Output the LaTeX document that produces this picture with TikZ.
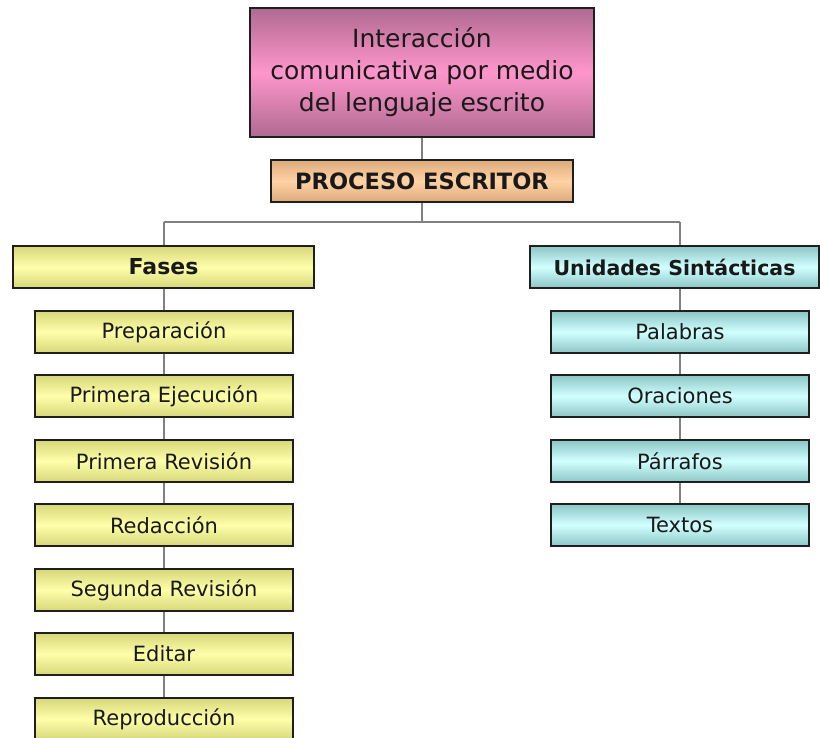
\documentclass[tikz,border=0pt]{standalone}
\usepackage{fontspec}
\setmainfont{DejaVu Sans}
\begin{document}
\begin{tikzpicture}[x=1pt,y=-1pt,
  box/.style={draw=black!88, line width=1.4pt, inner sep=0pt, align=center, text=black!90},
  pinkbox/.style={box, top color=pinkE, bottom color=pinkE, middle color=pinkM},
  orangebox/.style={box, top color=oraE, bottom color=oraE, middle color=oraM},
  yelbox/.style={box, top color=yelE, bottom color=yelE, middle color=yelM},
  cyanbox/.style={box, top color=cyaE, bottom color=cyaE, middle color=cyaM},
  child/.style={minimum width=258pt, minimum height=42pt, font=\fontsize{21}{24}\selectfont},
  head/.style={minimum height=42pt, font=\fontsize{22}{24}\selectfont\bfseries},
  conn/.style={draw=black!50, line width=2.6pt}
]
\definecolor{pinkE}{HTML}{B06A90}
\definecolor{pinkM}{HTML}{FF96CC}
\definecolor{oraE}{HTML}{DDAA7A}
\definecolor{oraM}{HTML}{FFD3A6}
\definecolor{yelE}{HTML}{D6D67A}
\definecolor{yelM}{HTML}{FFFFAA}
\definecolor{cyaE}{HTML}{8CC6C6}
\definecolor{cyaM}{HTML}{D2FFFF}
\useasboundingbox (0,0) rectangle (820,738);
\clip (0,0) rectangle (820,738);
\fill[white] (0,0) rectangle (820,738);

\node[pinkbox, minimum width=344pt, minimum height=129pt, font=\fontsize{25}{32}\selectfont] (title) at (422,72.5)
  {Interacción\\comunicativa por medio\\del lenguaje escrito};
\node[orangebox, head, minimum width=302pt, font=\fontsize{22.5}{24}\selectfont\bfseries] (proc) at (422,181) {PROCESO ESCRITOR};
\node[yelbox, head, minimum width=301pt] (fases) at (163.5,267) {Fases};
\node[cyanbox, head, minimum width=289pt, font=\fontsize{20.5}{24}\selectfont\bfseries] (unid) at (674.5,267) {Unidades Sintácticas};

\node[yelbox, child] (f1) at (164,332) {Preparación};
\node[yelbox, child] (f2) at (164,396) {Primera Ejecución};
\node[yelbox, child] (f3) at (164,461) {Primera Revisión};
\node[yelbox, child] (f4) at (164,525) {Redacción};
\node[yelbox, child] (f5) at (164,590) {Segunda Revisión};
\node[yelbox, child] (f6) at (164,654) {Editar};
\node[yelbox, child] (f7) at (164,719) {Reproducción};

\node[cyanbox, child] (u1) at (680,332) {Palabras};
\node[cyanbox, child] (u2) at (680,396) {Oraciones};
\node[cyanbox, child] (u3) at (680,461) {Párrafos};
\node[cyanbox, child] (u4) at (680,525) {Textos};

\coordinate (bar) at (422,222);
\draw[conn] (title.south) -- (proc.north);
\draw[conn] (proc.south) -- (bar);
\draw[conn] (f1.north |- bar) -- (u1.north |- bar);
\draw[conn] (f1.north |- bar) -- (f1.north |- fases.north);
\draw[conn] (u1.north |- bar) -- (u1.north |- unid.north);
\draw[conn] (f1.north |- fases.south) -- (f1.north);
\draw[conn] (f1.south) -- (f2.north);
\draw[conn] (f2.south) -- (f3.north);
\draw[conn] (f3.south) -- (f4.north);
\draw[conn] (f4.south) -- (f5.north);
\draw[conn] (f5.south) -- (f6.north);
\draw[conn] (f6.south) -- (f7.north);
\draw[conn] (u1.north |- unid.south) -- (u1.north);
\draw[conn] (u1.south) -- (u2.north);
\draw[conn] (u2.south) -- (u3.north);
\draw[conn] (u3.south) -- (u4.north);
\end{tikzpicture}
\end{document}
